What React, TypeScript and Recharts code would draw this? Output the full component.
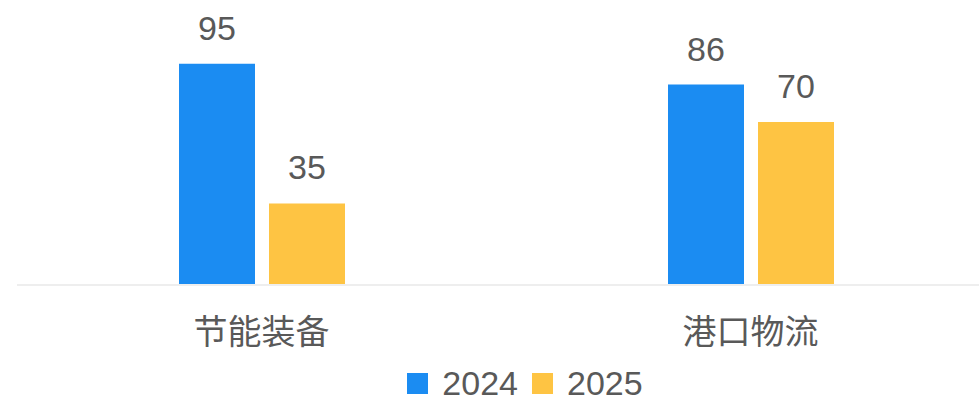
import { BarChart, Bar, XAxis, YAxis, Legend, LabelList } from "recharts";

const categories = ["节能装备", "港口物流"];
const values2024 = [95, 86];
const values2025 = [35, 70];
const seriesNames = ["2024", "2025"];

const data = categories.map((name, i) => ({
  name,
  v2024: values2024[i],
  v2025: values2025[i],
}));

const FONT = "'Liberation Sans', Arial, 'Noto Sans CJK SC', sans-serif";
const TEXT = "#595959";
const BLUE = "#1b8cf2";
const YELLOW = "#fec443";

function ChartLegend({ payload }: any) {
  return (
    <div
      style={{
        position: "relative",
        top: -2,
        height: 30,
        display: "flex",
        justifyContent: "center",
        alignItems: "center",
        paddingLeft: 38,
        fontFamily: FONT,
        fontSize: 34,
        lineHeight: 1,
        color: TEXT,
      }}
    >
      {(payload || []).map((p: any) => (
        <div key={p.value} style={{ display: "flex", alignItems: "center", margin: "0 7px" }}>
          <span style={{ width: 21, height: 21, background: p.color, display: "inline-block", marginRight: 14 }} />
          <span>{p.value}</span>
        </div>
      ))}
    </div>
  );
}

export default function App() {
  return (
    <div style={{ position: "absolute", left: 0, top: 0, width: 979, height: 400, overflow: "hidden", background: "#fff" }}>
      <BarChart
        width={1000}
        height={400}
        data={data}
        margin={{ top: 52, left: 17, right: 5, bottom: 0 }}
        barGap={14}
      >
        <XAxis
          dataKey="name"
          axisLine={{ stroke: "#eeeeee", strokeWidth: 2 }}
          tickLine={false}
          tickSize={0}
          tickMargin={35}
          height={85}
          tick={{ fill: TEXT, fontSize: 34, fontFamily: FONT }}
        />
        <YAxis hide domain={[0, 100]} />
        <Legend verticalAlign="bottom" content={<ChartLegend />} />
        <Bar dataKey="v2024" name={seriesNames[0]} fill={BLUE} barSize={76} isAnimationActive={false}>
          <LabelList dataKey="v2024" position="top" offset={24} fill={TEXT} fontSize={34} fontFamily={FONT} />
        </Bar>
        <Bar dataKey="v2025" name={seriesNames[1]} fill={YELLOW} barSize={76} isAnimationActive={false}>
          <LabelList dataKey="v2025" position="top" offset={24} fill={TEXT} fontSize={34} fontFamily={FONT} />
        </Bar>
      </BarChart>
    </div>
  );
}
